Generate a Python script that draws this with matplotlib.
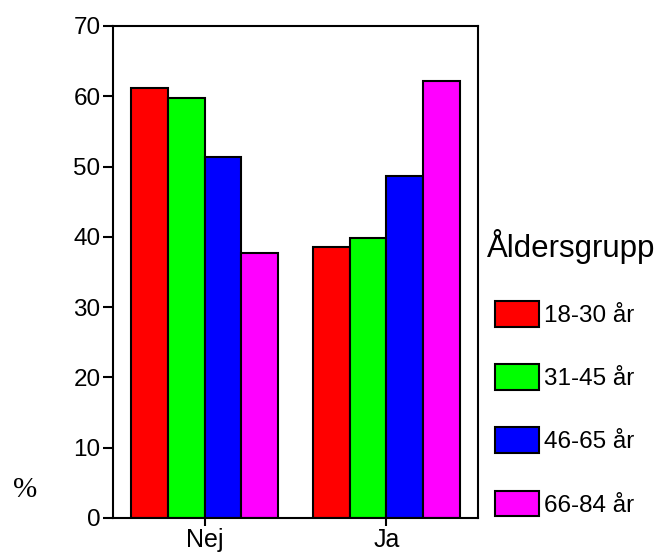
import numpy as np
import matplotlib
matplotlib.use("Agg")
from matplotlib import pyplot as plt

# data
groups = ["Nej", "Ja"]
age_groups = ["18-30 år", "31-45 år", "46-65 år", "66-84 år"]
v_18_30 = [61.2, 38.6]
v_31_45 = [59.7, 39.8]
v_46_65 = [51.3, 48.6]
v_66_84 = [37.7, 62.1]
colors = ["#ff0000", "#00ff00", "#0000ff", "#ff00ff"]

plt.rcParams['font.family'] = ['Liberation Sans', 'DejaVu Sans']

fig = plt.figure(figsize=(6.62, 5.52), dpi=100)
ax = fig.add_axes([0.1707, 0.0616, 0.5514, 0.8914])

x = np.arange(len(groups))
w = 0.202
series = [v_18_30, v_31_45, v_46_65, v_66_84]
handles = []
for i, vals in enumerate(series):
    b = ax.bar(x + (i - 1.5) * w, vals, w, color=colors[i], edgecolor='black',
               linewidth=1.5, label=age_groups[i])
    handles.append(b)

ax.set_xlim(-0.505, 1.505)
ax.set_ylim(0, 70)
ax.set_yticks(range(0, 71, 10))
ax.set_xticks(x)
ax.set_xticklabels(groups)
ax.tick_params(axis='y', length=7, width=1.5, labelsize=17.5, pad=2)
ax.tick_params(axis='x', length=6, width=1.5, labelsize=18, pad=1)
for s in ax.spines.values():
    s.set_linewidth(1.5)

fig.text(25 / 662, 1 - 490 / 552, "%", family=['Liberation Serif'], fontsize=21,
         ha='center', va='center')

fig.text(487 / 662, 1 - 247 / 552, "Åldersgrupp", fontsize=22.5, ha='left', va='center')

leg = fig.legend(handles=handles, loc='upper left', bbox_to_anchor=(495 / 662, 1 - 301 / 552),
                 frameon=False, fontsize=17.5, handlelength=1.81, handleheight=1.25,
                 labelspacing=1.53, handletextpad=0.2, borderaxespad=0, borderpad=0)

fig.savefig("out.png", dpi=100)
